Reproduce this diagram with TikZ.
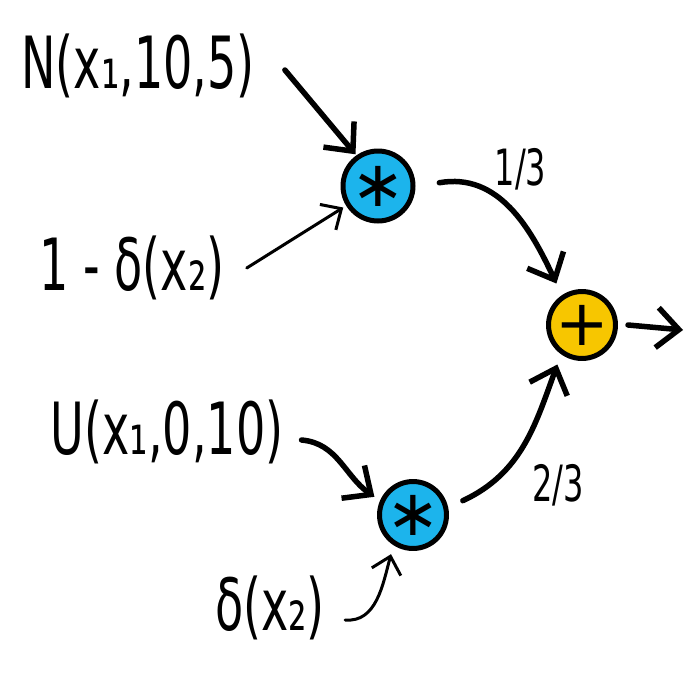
\documentclass[tikz,border=0pt]{standalone}
\usepackage{fontspec}
\setmainfont{DejaVu Sans}
\usepackage{graphicx}
\usetikzlibrary{arrows.meta}
\definecolor{opblue}{HTML}{1CB4EC}
\definecolor{opyellow}{HTML}{F7C600}
\newcommand{\hand}[1]{\scalebox{0.64}[1]{#1}}
\tikzset{
  lbl/.style={font=\fontsize{72}{80}\selectfont, inner sep=0pt},
  wlbl/.style={font=\fontsize{50}{54}\selectfont, inner sep=0pt},
  opnode/.style={circle, draw=black, line width=5pt, minimum size=70pt, inner sep=0pt, font=\fontsize{64}{64}\selectfont},
  bold arrow/.style={line width=5.5pt, line cap=round, -{Straight Barb[length=22pt, width=40pt, line width=5.5pt]}},
  thin arrow/.style={line width=3pt, line cap=round, -{Straight Barb[length=16pt, width=30pt, line width=3pt]}}
}
\begin{document}
\begin{tikzpicture}[x=1pt,y=-1pt]
\useasboundingbox (0,0) rectangle (696,675);
\node[lbl] (normal) at (138,66) {\hand{N(x₁,10,5)}};
\node[lbl] (onemd) at (132,268) {\hand{1 - δ(x₂)}};
\node[lbl] (unif) at (167,432) {\hand{U(x₁,0,10)}};
\node[lbl] (delta) at (270,608) {\hand{δ(x₂)}};
\node[opnode, fill=opblue] (mul1) at (378,186) {∗};
\node[opnode, fill=opblue, minimum size=64pt] (mul2) at (413,515) {∗};
\node[opnode, fill=opyellow, minimum size=62pt] (add) at (582,325) {+};
\coordinate (out) at (683,330);
% inputs
\draw[bold arrow] ([shift={(30,4)}]normal.east) -- ([shift={(-1,-1)}]mul1.125);
\draw[thin arrow] ([shift={(22,0)}]onemd.east) -- ([shift={(-4,0)}]mul1.215);
\draw[bold arrow] ([shift={(18,8)}]unif.east) to[out=-5, in=145] ([shift={(-6,-3)}]mul2.155);
\draw[thin arrow] ([shift={(20,12)}]delta.east) to[out=-5, in=-105] ([shift={(-4,8)}]mul2.240);
% weighted sum
\draw[bold arrow] ([shift={(24,0)}]mul1.5) to[out=10, in=115] node[wlbl, pos=0.5, above=16pt, xshift=10pt] {\hand{1/3}} ([shift={(-5,-12)}]add.125);
\draw[bold arrow] ([shift={(16,-2)}]mul2.20) to[out=25, in=-110] node[wlbl, pos=0.45, below right=10pt] {\hand{2/3}} ([shift={(-4,10)}]add.235);
\draw[bold arrow] ([xshift=10pt]add.east) -- (out);
\end{tikzpicture}
\end{document}
